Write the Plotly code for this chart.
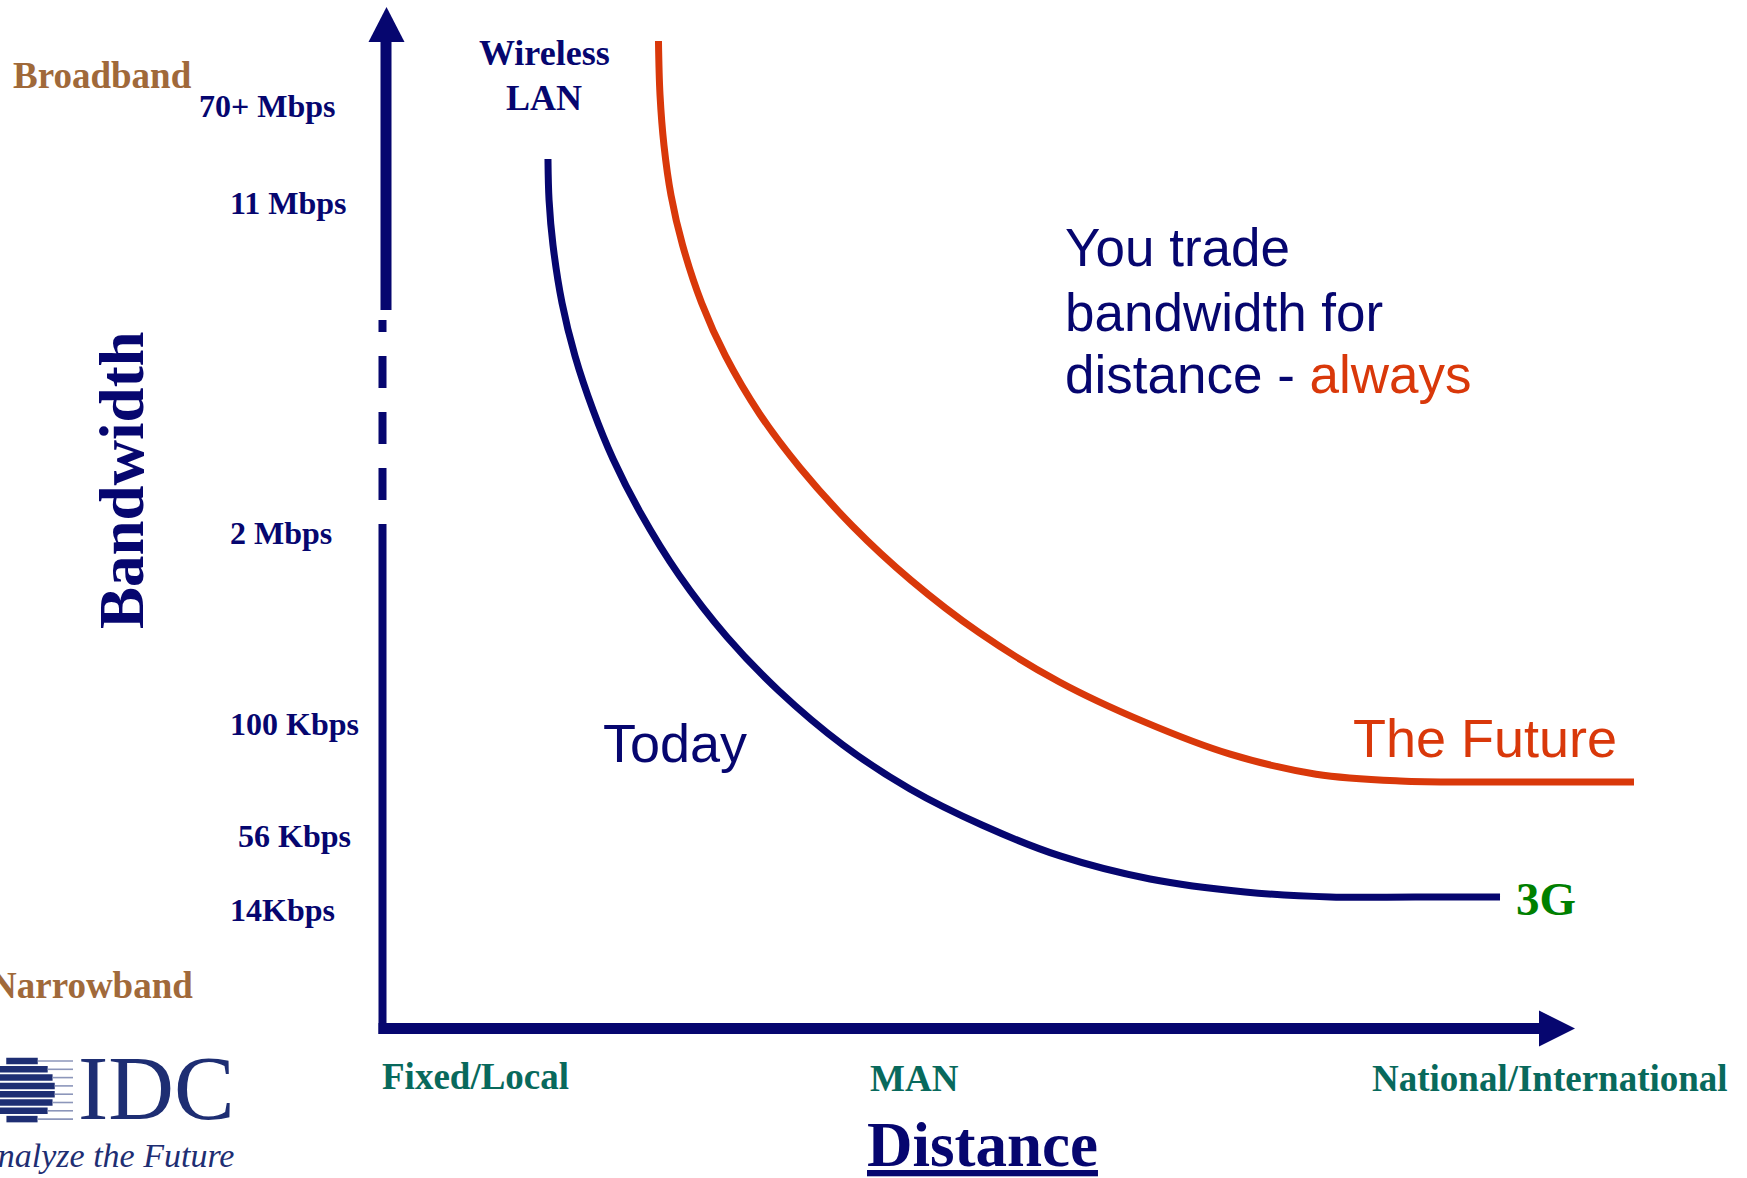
import numpy as np
import plotly.graph_objects as go

W, H = 1747, 1178

# ---------------- data (conceptual units: distance 0-100 along the x arrow,
# bandwidth 0-100 up the y arrow) --------------------------------------
today_distance = [13.84, 13.93, 14.26, 15.02, 16.11, 17.62, 19.30, 21.56, 24.83, 28.86,
                  33.22, 38.59, 44.21, 50.25, 56.80, 64.35, 72.32, 79.45, 86.58, 93.71]
today_bandwidth = [85.16, 81.15, 76.74, 71.06, 65.87, 60.58, 55.78, 50.59, 44.42, 38.35,
                   33.06, 27.77, 23.46, 19.93, 16.90, 14.64, 13.37, 12.88, 12.88, 12.88]

future_distance = [23.11, 23.24, 23.57, 24.16, 25.13, 26.73, 28.73, 31.60, 35.00, 39.38,
                   44.27, 50.05, 56.75, 63.87, 71.07, 78.28, 85.32, 92.03, 98.74, 104.95]
future_bandwidth = [96.72, 91.43, 86.53, 81.63, 76.74, 71.06, 65.87, 60.19, 54.90, 49.22,
                    43.93, 38.74, 33.94, 30.03, 26.87, 24.91, 24.24, 24.14, 24.14, 24.14]

bandwidth_labels = ["70+ Mbps", "11 Mbps", "2 Mbps", "100 Kbps", "56 Kbps", "14Kbps"]
bandwidth_classes = ["Broadband", "Narrowband"]
distance_labels = ["Fixed/Local", "MAN", "National/International"]
series_labels = ["Today", "The Future"]
curve_end_labels = ["Wireless", "LAN", "3G"]
message_lines = ["You trade", "bandwidth for", "distance - ", "always"]
axis_titles = ["Bandwidth", "Distance"]
logo_texts = ["IDC", "Analyze the Future"]

# ---------------- styles ----------------
NAVY = "#06066F"
ORANGE = "#D9380A"
BROWN = "#A0693A"
TEAL = "#08695C"
GREEN = "#008000"
LOGO = "#1E2E73"
SERIF = "Liberation Serif, Times New Roman, serif"
SANS = "Liberation Sans, Arial, sans-serif"

# frame: pixel position of the axes origin and pixels per unit
X0, X_UNIT = 383.0, 11.92
Y0, Y_UNIT = 1028.5, 10.21


def dx(px):
    return (px - X0) / X_UNIT


def dy(py):
    return (Y0 - py) / Y_UNIT


fig = go.Figure()
fig.add_trace(go.Scatter(x=today_distance, y=today_bandwidth, mode="lines",
                         line=dict(color=NAVY, width=7, shape="spline", smoothing=1.0),
                         hoverinfo="skip"))
fig.add_trace(go.Scatter(x=future_distance, y=future_bandwidth, mode="lines",
                         line=dict(color=ORANGE, width=7, shape="spline", smoothing=1.0),
                         hoverinfo="skip"))

shapes = []
# vertical axis: solid arrow top, dashed break, solid lower part
shapes.append(dict(type="line", xref="x", yref="y", x0=dx(386), x1=dx(386),
                   y0=dy(310), y1=dy(40), line=dict(color=NAVY, width=11)))
shapes.append(dict(type="path", xref="x", yref="y",
                   path=f"M {dx(368.5)},{dy(42)} L {dx(404.5)},{dy(42)} L {dx(386.5)},{dy(7)} Z",
                   fillcolor=NAVY, line=dict(width=0)))
shapes.append(dict(type="line", xref="x", yref="y", x0=dx(382.5), x1=dx(382.5),
                   y0=dy(320), y1=dy(524),
                   line=dict(color=NAVY, width=8,
                             dash="12px,24px,32px,24px,32px,24px,32px,24px")))
shapes.append(dict(type="line", xref="x", yref="y", x0=dx(382.5), x1=dx(382.5),
                   y0=dy(524), y1=dy(1034), line=dict(color=NAVY, width=8)))
# horizontal axis
shapes.append(dict(type="line", xref="x", yref="y", x0=dx(378.5), x1=dx(1541),
                   y0=dy(1028.5), y1=dy(1028.5), line=dict(color=NAVY, width=11)))
shapes.append(dict(type="path", xref="x", yref="y",
                   path=f"M {dx(1539)},{dy(1010.5)} L {dx(1539)},{dy(1046.5)} L {dx(1575)},{dy(1028.5)} Z",
                   fillcolor=NAVY, line=dict(width=0)))

# IDC globe logo (striped sphere)
gcx, gcy, gr = 22.0, 1090.0, 33.0
for yc in np.arange(gcy - 29.0, gcy + 30.0, 8.3):
    hw = np.sqrt(max(gr ** 2 - (yc - gcy) ** 2, 0))
    shapes.append(dict(type="line", xref="x", yref="y", x0=dx(gcx - hw), x1=dx(gcx + hw),
                       y0=dy(yc), y1=dy(yc), line=dict(color=LOGO, width=6.5)))
    shapes.append(dict(type="line", xref="x", yref="y", x0=dx(gcx + hw), x1=dx(73),
                       y0=dy(yc), y1=dy(yc), line=dict(color="#8C96BA", width=1.6)))

annotations = []


def label(text, px, py, size, color, family=SERIF, xanchor="left", weight=700,
          style="normal", angle=0):
    annotations.append(dict(text=text, x=px / W, y=1 - py / H, xref="paper", yref="paper",
                            xanchor=xanchor, yanchor="middle", showarrow=False,
                            textangle=angle, borderpad=0,
                            font=dict(family=family, size=size, color=color,
                                      weight=weight, style=style)))


# bandwidth class labels
label(bandwidth_classes[0], 193, 76, 37, BROWN, xanchor="right")
label(bandwidth_classes[1], 194, 985, 37, BROWN, xanchor="right")

# bandwidth tick labels
bw_pos = [(198, 106), (229, 203), (229, 533), (229, 724), (237, 836), (229, 910)]
for t, (px, py) in zip(bandwidth_labels, bw_pos):
    label(t, px, py, 32, NAVY)

# axis titles
label(axis_titles[0], 122, 480, 63, NAVY, xanchor="center", angle=-90)
label(f"<u>{axis_titles[1]}</u>", 866, 1145, 63, NAVY)

# distance labels
d_pos = [(381, 1076), (869, 1078), (1371, 1078)]
for t, (px, py) in zip(distance_labels, d_pos):
    label(t, px, py, 37, TEAL)

# curve labels
label(curve_end_labels[0], 544, 53, 36, NAVY, xanchor="center")
label(curve_end_labels[1], 544, 98, 36, NAVY, xanchor="center")
label(curve_end_labels[2], 1515, 899, 47, GREEN)
label(series_labels[0], 602, 743, 54, NAVY, family=SANS, weight=400)
label(series_labels[1], 1352, 738, 54, ORANGE, family=SANS, weight=400)

# message block
label(message_lines[0], 1064, 247, 53, NAVY, family=SANS, weight=400)
label(message_lines[1], 1064, 312, 53, NAVY, family=SANS, weight=400)
label(f"{message_lines[2]}<span style='color:{ORANGE}'>{message_lines[3]}</span>",
      1064, 375, 53, NAVY, family=SANS, weight=400)

# logo texts
label(logo_texts[0], 156, 1088, 91, LOGO, xanchor="center", weight=400)
label(logo_texts[1], 235, 1155, 34, LOGO, xanchor="right", weight=400, style="italic")

fig.update_layout(
    width=W, height=H, margin=dict(l=0, r=0, t=0, b=0, pad=0),
    paper_bgcolor="white", plot_bgcolor="white", showlegend=False,
    xaxis=dict(visible=False, range=[dx(0), dx(W)], fixedrange=True),
    yaxis=dict(visible=False, range=[dy(H), dy(0)], fixedrange=True),
    shapes=shapes, annotations=annotations,
)

fig.write_html("out.html", config={"displayModeBar": False},
               post_script="document.body.style.margin='0';document.body.style.overflow='hidden';")
